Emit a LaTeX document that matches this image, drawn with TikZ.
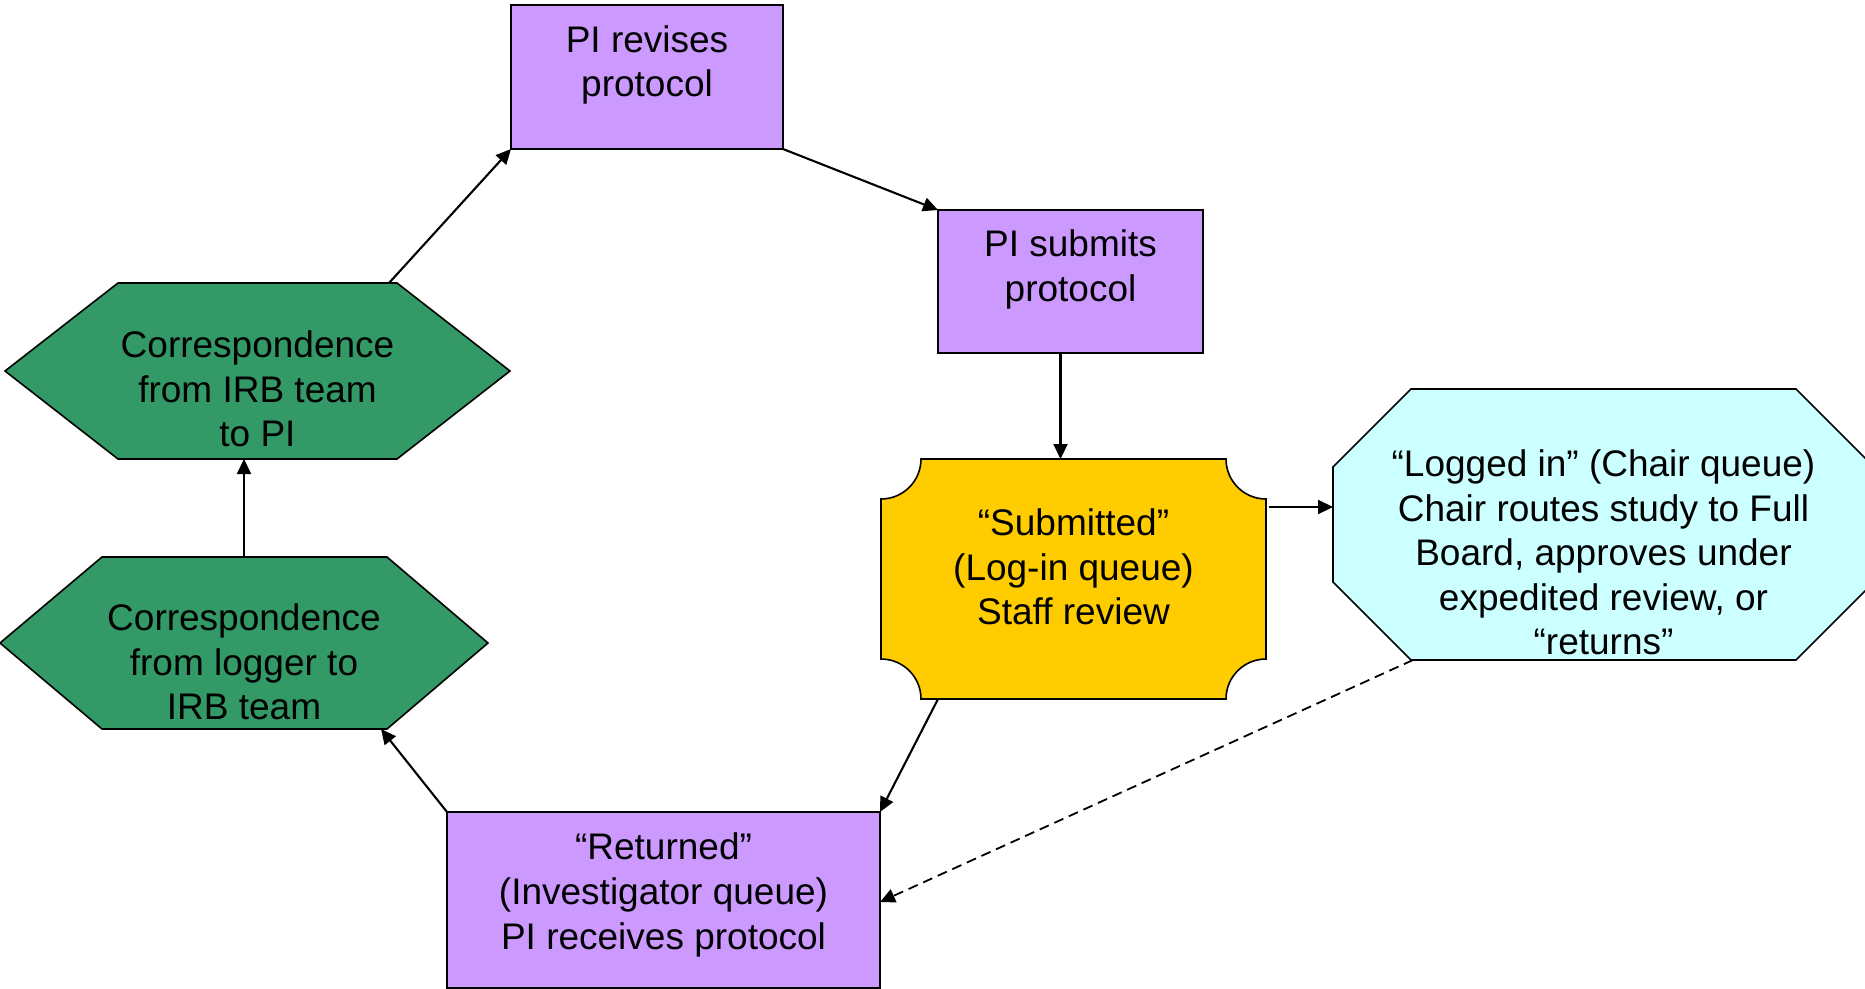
\documentclass[tikz,border=0pt]{standalone}
\usepackage{fontspec}
\setmainfont{Liberation Sans}
\usetikzlibrary{arrows.meta,calc}
\definecolor{purp}{HTML}{CC99FF}
\definecolor{grn}{HTML}{339966}
\definecolor{yel}{HTML}{FFCC00}
\definecolor{cyn}{HTML}{CCFFFF}
\begin{document}
\begin{tikzpicture}[x=1pt,y=1pt,
  shapebox/.style={rectangle,inner sep=0pt,outer sep=0pt},
  framed/.style={draw=black,line width=1.6pt,line join=miter},
  txt/.style={align=center,font=\fontsize{37}{44.6}\selectfont,inner sep=0pt},
  arr/.style={line width=2.1pt,-{Triangle[length=15pt,width=14pt]}},
  darr/.style={line width=1.8pt,dash pattern=on 10pt off 6pt,-{Triangle[length=15pt,width=14pt]}}]
\useasboundingbox (0,0) rectangle (1865,-988);
% shape nodes
\node[shapebox,framed,fill=purp,minimum width=272pt,minimum height=144pt] (rev) at (647,-77) {};
\node[shapebox,framed,fill=purp,minimum width=265pt,minimum height=143pt] (pis) at (1070.5,-281.5) {};
\node[shapebox,minimum width=385pt,minimum height=240pt] (sub) at (1073.5,-579) {};
\node[shapebox,framed,fill=purp,minimum width=433pt,minimum height=176pt] (ret) at (663.5,-900) {};
\node[shapebox,minimum width=505pt,minimum height=176pt] (hexa) at (257.5,-371) {};
\node[shapebox,minimum width=488pt,minimum height=172pt] (hexb) at (244,-643) {};
\node[shapebox,minimum width=541pt,minimum height=271pt] (oct) at (1603.5,-524.5) {};
% plaque
\path[framed,fill=yel] ([xshift=40pt]sub.north west) -- ([xshift=-40pt]sub.north east)
  arc[start angle=180,end angle=270,radius=40pt] -- ([yshift=40pt]sub.south east)
  arc[start angle=90,end angle=180,radius=40pt] -- ([xshift=40pt]sub.south west)
  arc[start angle=0,end angle=90,radius=40pt] -- ([yshift=-40pt]sub.north west)
  arc[start angle=270,end angle=360,radius=40pt] -- cycle;
% hexagons
\path[framed,fill=grn] (hexa.west) -- ([xshift=113pt]hexa.north west) -- ([xshift=-113pt]hexa.north east)
  -- (hexa.east) -- ([xshift=-113pt]hexa.south east) -- ([xshift=113pt]hexa.south west) -- cycle;
\path[framed,fill=grn] (hexb.west) -- ([xshift=102pt]hexb.north west) -- ([xshift=-101pt]hexb.north east)
  -- (hexb.east) -- ([xshift=-101pt]hexb.south east) -- ([xshift=102pt]hexb.south west) -- cycle;
% octagon
\path[framed,fill=cyn] ([xshift=78pt]oct.north west) -- ([xshift=-78pt]oct.north east)
  -- ([yshift=-78pt]oct.north east) -- ([yshift=78pt]oct.south east)
  -- ([xshift=-78pt]oct.south east) -- ([xshift=78pt]oct.south west)
  -- ([yshift=78pt]oct.south west) -- ([yshift=-78pt]oct.north west) -- cycle;
% texts
\node[txt] (revt) at ([yshift=12pt]rev.center) {PI revises\\protocol};
\node[txt] (pist) at ([yshift=12pt]pis.center) {PI submits\\protocol};
\node[txt] (subt) at ([yshift=12pt]sub.center) {“Submitted”\\(Log-in queue)\\Staff review};
\node[txt] (rett) at ([yshift=5pt]ret.center) {“Returned”\\(Investigator queue)\\PI receives protocol};
\node[txt] (hexat) at ([yshift=-18pt]hexa.center) {Correspondence\\from IRB team\\to PI};
\node[txt] (hexbt) at ([yshift=-19pt]hexb.center) {Correspondence\\from logger to\\IRB team};
\node[txt] (octt) at ([yshift=-28pt]oct.center) {“Logged in” (Chair queue)\\Chair routes study to Full\\Board, approves under\\expedited review, or\\“returns”};
% connectors
\draw[arr] ([xshift=-121pt]hexa.north east) -- (rev.south west);
\draw[arr] (rev.south east) -- (pis.north west);
\draw[arr] ([xshift=-10pt]pis.south) -- ([xshift=-13pt]sub.north);
\draw[arr] ([xshift=3pt,yshift=72pt]sub.east) -- ([yshift=17.5pt]oct.west);
\draw[arr] ([xshift=57pt]sub.south west) -- (ret.north east);
\draw[darr] ([xshift=80pt]oct.south west) -- ([yshift=-2pt]ret.east);
\draw[arr] (ret.north west) -- ([xshift=-107pt]hexb.south east);
\draw[arr] (hexb.north) -- (hexb.north |- hexa.south);
\end{tikzpicture}
\end{document}
